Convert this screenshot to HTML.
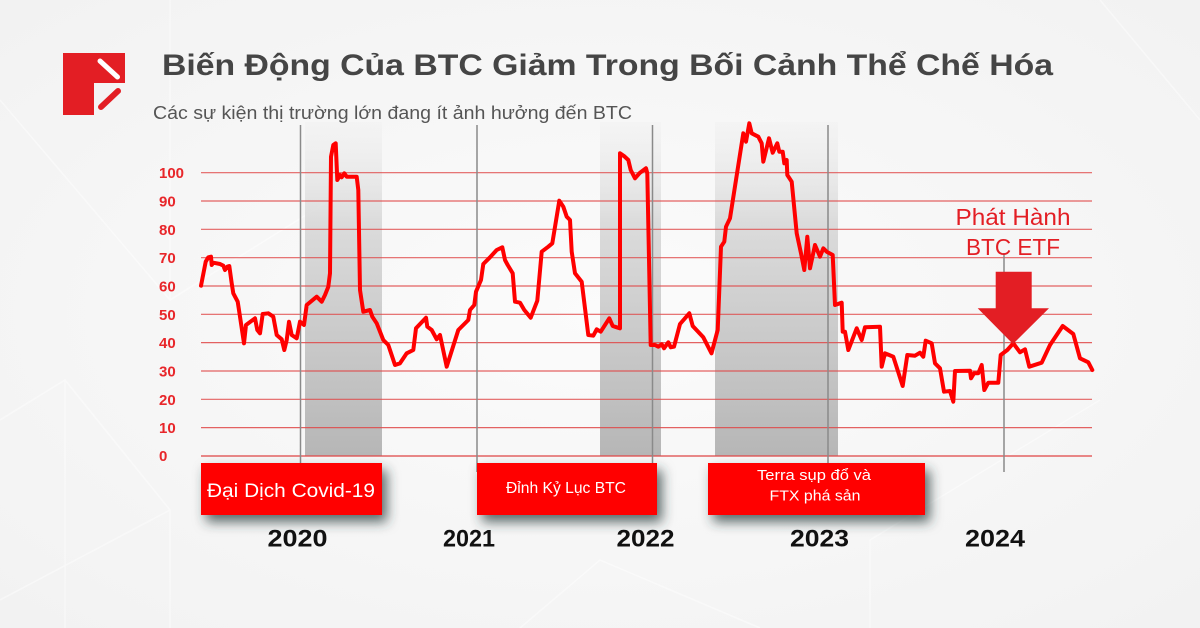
<!DOCTYPE html>
<html>
<head>
<meta charset="utf-8">
<style>
  html,body{margin:0;padding:0;background:#f6f6f6;}
  svg{display:block;}
</style>
</head>
<body>
<svg width="1200" height="628" viewBox="0 0 1200 628" xmlns="http://www.w3.org/2000/svg">
  <defs>
    <radialGradient id="bg" cx="50%" cy="50%" r="70%">
      <stop offset="0" stop-color="#fbfbfb"/>
      <stop offset="1" stop-color="#f2f2f2"/>
    </radialGradient>
    <linearGradient id="band" x1="0" y1="0" x2="0" y2="1">
      <stop offset="0" stop-color="#e8e8e8" stop-opacity="0.2"/>
      <stop offset="0.3" stop-color="#d8d8d8" stop-opacity="0.9"/>
      <stop offset="1" stop-color="#b6b6b6"/>
    </linearGradient>
    <filter id="sh" x="-20%" y="-30%" width="150%" height="180%">
      <feDropShadow dx="5" dy="7" stdDeviation="6" flood-color="#2b3b3b" flood-opacity="0.75"/>
    </filter>
  </defs>

  <rect width="1200" height="628" fill="url(#bg)"/>
  <!-- faint background pattern -->
  <g stroke="#ffffff" stroke-width="1.5" fill="none" opacity="0.45">
    <path d="M0,420 L65,380 L170,510 L0,600"/>
    <path d="M65,380 L65,628"/>
    <path d="M170,510 L170,628"/>
    <path d="M170,0 L170,300"/>
    <path d="M0,100 L170,300 L330,200"/>
    <path d="M520,628 L600,560 L760,628"/>
    <path d="M870,628 L870,540 L1100,400"/>
    <path d="M1100,0 L1200,120"/>
  </g>

  <!-- Logo -->
  <path d="M63,53 H125 V83 H94 V115 H63 Z" fill="#e31e24"/>
  <line x1="100" y1="61" x2="117.5" y2="77" stroke="#ffffff" stroke-width="5" stroke-linecap="round"/>
  <line x1="118" y1="91" x2="101" y2="107" stroke="#e31e24" stroke-width="6" stroke-linecap="round"/>

  <!-- Title -->
  <text x="162" y="75" font-family="Liberation Sans, sans-serif" font-weight="bold" font-size="30" fill="#454545" textLength="891" lengthAdjust="spacingAndGlyphs">Biến Động Của BTC Giảm Trong Bối Cảnh Thể Chế Hóa</text>
  <text x="153" y="119" font-family="Liberation Sans, sans-serif" font-size="18" fill="#555555" textLength="479" lengthAdjust="spacingAndGlyphs">Các sự kiện thị trường lớn đang ít ảnh hưởng đến BTC</text>

  <!-- shaded bands -->
  <rect x="305" y="122" width="77" height="334" fill="url(#band)"/>
  <rect x="600" y="122" width="61" height="334" fill="url(#band)"/>
  <rect x="715" y="122" width="123" height="334" fill="url(#band)"/>

  <!-- gridlines -->
  <g stroke="#e04848" stroke-width="1.2" opacity="0.85">
    <line x1="201" y1="172.7" x2="1092" y2="172.7"/>
    <line x1="201" y1="201" x2="1092" y2="201"/>
    <line x1="201" y1="229.3" x2="1092" y2="229.3"/>
    <line x1="201" y1="257.7" x2="1092" y2="257.7"/>
    <line x1="201" y1="286" x2="1092" y2="286"/>
    <line x1="201" y1="314.3" x2="1092" y2="314.3"/>
    <line x1="201" y1="342.6" x2="1092" y2="342.6"/>
    <line x1="201" y1="371" x2="1092" y2="371"/>
    <line x1="201" y1="399.3" x2="1092" y2="399.3"/>
    <line x1="201" y1="427.6" x2="1092" y2="427.6"/>
    <line x1="201" y1="456" x2="1092" y2="456" stroke-width="1.6"/>
  </g>

  <!-- y labels -->
  <g font-family="Liberation Sans, sans-serif" font-weight="bold" font-size="15" fill="#e8262a">
    <text x="159" y="178">100</text>
    <text x="159" y="206.5">90</text>
    <text x="159" y="235">80</text>
    <text x="159" y="263">70</text>
    <text x="159" y="291.5">60</text>
    <text x="159" y="320">50</text>
    <text x="159" y="348">40</text>
    <text x="159" y="376.5">30</text>
    <text x="159" y="405">20</text>
    <text x="159" y="433">10</text>
    <text x="159" y="461">0</text>
  </g>

  <!-- vertical year lines -->
  <g stroke="#8a8a8a" stroke-width="1.5">
    <line x1="300.5" y1="125" x2="300.5" y2="472"/>
    <line x1="477" y1="125" x2="477" y2="472"/>
    <line x1="652.5" y1="125" x2="652.5" y2="472"/>
    <line x1="828" y1="125" x2="828" y2="472"/>
    <line x1="1004" y1="253" x2="1004" y2="472"/>
  </g>

  <!-- data line -->
  <polyline fill="none" stroke="#ff0000" stroke-width="4" stroke-linejoin="round" stroke-linecap="round"
    points="201,285.7 205.7,261.7 208.3,257.3 211,256.7 211.7,265 213.3,262.7 220,264 223.3,265.7 225,270 227.3,266.7 229.3,266 231.7,283.3 233.3,293.3 237.7,301.7 240,316.7 244,343.3 246,325 255,318.3 257.3,330 260,333.3 262.7,314 268.3,313.3 273.3,316.7 276.7,335 281.7,339.3 284.3,350 286.7,340 289,321.7 291.7,335 296.7,338.3 300,321.7 304,325 306.7,305 316.7,296.7 321.7,301.7 325,295 328.3,286.7 330,273.3 331,156.7 333.3,145 335.7,143.3 337.3,180 340,175 341.7,177.3 344.3,173.3 346.7,176.7 356.7,176.7 358.3,190 360,290 363.3,311.7 370,310 372.3,316.7 376.7,323.3 383.3,340 388.3,345 395,365 400,363.3 406.7,353.3 413.3,350 416,328.3 426,317.7 427.3,326.7 431.7,330 436.7,339.3 440,335 446.7,366.7 458.3,330 468.3,320 470,310 474.3,305 476,291.7 481,280 483.3,264 490,257.3 496.7,250 502.3,247.3 505,260 507.7,265 512.7,273.3 515,301.7 520,302.7 524.3,310 530.7,317.7 537.3,300.7 541.7,251.7 548.3,246.7 552.3,243.3 559.3,200.7 563.3,206.7 566.7,216.7 570,220 571.7,251.7 575,273.3 581.7,281.7 588.3,335 593.3,335.7 596.7,329.3 600.7,331.7 609.3,318.3 612.7,326 616.7,327.3 620,328.3 620,153.3 624,156 628.3,160 630.7,170 635,178.3 640,172.7 646,168.3 647.3,173.3 650.7,345 655,345 658.3,346.7 661.7,344.3 664,348.3 668.3,342.3 670.7,347.3 674,346.7 680,324 689.3,313.3 692.7,326 703.3,337.3 711.5,353.3 717.7,330 721,246.7 724.3,241.7 726,226.7 730,218.3 743.3,133.3 746,141.7 749.3,123.3 751.7,133.3 758.3,136.7 761.7,143.3 763.3,161.7 769,138.3 772.7,152.7 777.3,143.3 779.3,151.7 782.7,151.7 784.3,163.3 786.7,160 787.3,175 791.7,181.7 796.7,233.3 801,253.3 804.3,270 807.3,236.7 810,268.3 815,245 820,256.7 823.3,248.3 826.7,251.7 832.7,255 835,305 841.7,302.7 842.7,331.7 845,331.7 848.3,350 856.7,328.3 861.7,340 865,327.3 880,326.7 881.7,366.7 885,353.3 893.3,356.7 902.7,386 907.3,355 915,355.7 920,352.7 923.3,356.7 925.7,340.7 931.7,343.3 935,363.3 940,368.3 944,391.7 950,391 953.3,401.7 955,371 970,370.7 971,378.3 974,373.3 978.3,373.3 981.7,365 984.3,390 988.3,382.7 998.3,382.7 1000.7,355 1007.3,350 1013.3,343.3 1020,352.3 1025,349.3 1029.3,366.7 1041.7,362.7 1050,345 1062.7,326 1073.3,334 1080,358.3 1088.3,362.3 1092.3,370"/>

  <!-- ETF arrow & label -->
  <polygon points="995.7,271.7 1031.7,271.7 1031.7,308.3 1049,308.3 1013,344 977.7,308.3 995.7,308.3" fill="#e31e24"/>
  <g font-family="Liberation Sans, sans-serif" font-size="23" fill="#e31e24" text-anchor="middle">
    <text x="1013" y="225" textLength="115" lengthAdjust="spacingAndGlyphs">Phát Hành</text>
    <text x="1013" y="255" textLength="94" lengthAdjust="spacingAndGlyphs">BTC ETF</text>
  </g>

  <!-- event boxes -->
  <g filter="url(#sh)">
    <rect x="201" y="463" width="181" height="52" fill="#ff0000"/>
    <rect x="477" y="463" width="180" height="52" fill="#ff0000"/>
    <rect x="708" y="463" width="217" height="52" fill="#ff0000"/>
  </g>
  <g font-family="Liberation Sans, sans-serif" fill="#ffffff" text-anchor="middle">
    <text x="291" y="497" font-size="19" textLength="168" lengthAdjust="spacingAndGlyphs">Đại Dịch Covid-19</text>
    <text x="566" y="493" font-size="15.5" textLength="120" lengthAdjust="spacingAndGlyphs">Đỉnh Kỷ Lục BTC</text>
    <text x="814" y="480" font-size="15" textLength="114" lengthAdjust="spacingAndGlyphs">Terra sụp đổ và</text>
    <text x="815" y="500.5" font-size="15" textLength="91" lengthAdjust="spacingAndGlyphs">FTX phá sản</text>
  </g>

  <!-- years -->
  <g font-family="Liberation Sans, sans-serif" font-weight="bold" font-size="24" fill="#111111" text-anchor="middle">
    <text x="297.5" y="546.5" textLength="60" lengthAdjust="spacingAndGlyphs">2020</text>
    <text x="469" y="546.5" textLength="52" lengthAdjust="spacingAndGlyphs">2021</text>
    <text x="645.5" y="546.5" textLength="58" lengthAdjust="spacingAndGlyphs">2022</text>
    <text x="819.5" y="546.5" textLength="59" lengthAdjust="spacingAndGlyphs">2023</text>
    <text x="995" y="546.5" textLength="60" lengthAdjust="spacingAndGlyphs">2024</text>
  </g>
</svg>
</body>
</html>
